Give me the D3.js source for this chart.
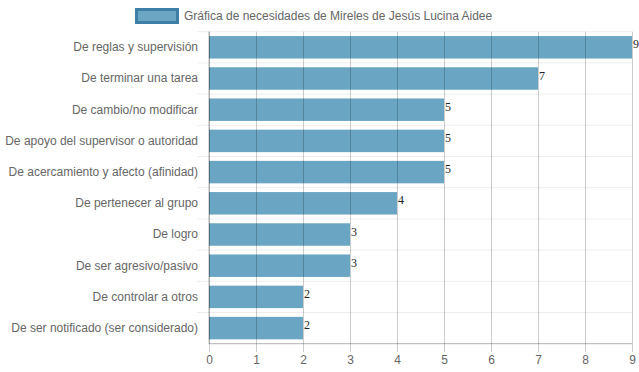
<!DOCTYPE html>
<html>
<head>
    <meta charset="utf-8">
    <title>Gráfica de necesidades</title>
    <style>
        body { margin: 0; background: #fff; }
        text { font-family: "Liberation Sans", Arial, sans-serif; }
        text.value { font-family: "Liberation Serif", "Times New Roman", serif; }
    </style>
</head>
<body>
    <script src="https://d3js.org/d3.v7.min.js"></script>
    <script>
        // Data
        const categories = [
            'De reglas y supervisión',
            'De terminar una tarea',
            'De cambio/no modificar',
            'De apoyo del supervisor o autoridad',
            'De acercamiento y afecto (afinidad)',
            'De pertenecer al grupo',
            'De logro',
            'De ser agresivo/pasivo',
            'De controlar a otros',
            'De ser notificado (ser considerado)'
        ];
        const values = [9, 7, 5, 5, 5, 4, 3, 3, 2, 2];
        const xTicks = [0, 1, 2, 3, 4, 5, 6, 7, 8, 9];
        const seriesName = 'Gráfica de necesidades de Mireles de Jesús Lucina Aidee';

        const width = 639;
        const height = 372;
        const plotLeft = 209, plotRight = 632, plotTop = 31.7, plotBottom = 343.7;
        const barColor = '#6aa5c4';

        const svg = d3.select('body')
            .append('svg')
            .attr('width', width)
            .attr('height', height);

        const x = d3.scaleLinear().domain([0, 9]).range([plotLeft, plotRight]);
        // bars take 72% of each category slot
        const y = d3.scaleBand().domain(categories).range([plotTop, plotBottom])
            .paddingInner(0.28).paddingOuter(0.14);
        const yGrid = d3.scaleBand().domain(categories).range([plotTop, plotBottom]);

        // horizontal grid lines (between categories), with small ticks to the left
        svg.append('g')
            .selectAll('line')
            .data(categories)
            .enter()
            .append('line')
            .attr('x1', plotLeft - 12)
            .attr('x2', plotRight)
            .attr('y1', d => yGrid(d))
            .attr('y2', d => yGrid(d))
            .attr('stroke', 'rgba(0,0,0,0.07)');

        // bars
        svg.append('g')
            .selectAll('rect')
            .data(values)
            .enter()
            .append('rect')
            .attr('x', x(0))
            .attr('y', (d, i) => y(categories[i]))
            .attr('width', d => x(d) - x(0))
            .attr('height', y.bandwidth())
            .attr('fill', barColor);

        // vertical grid lines over the bars + tick labels
        const xAxis = svg.append('g')
            .attr('transform', `translate(0,352)`)
            .call(d3.axisBottom(x)
                .tickValues(xTicks)
                .tickFormat(d3.format('d'))
                .tickSizeInner(-(352 - plotTop))
                .tickSizeOuter(0)
                .tickPadding(3));
        xAxis.select('.domain').remove();
        xAxis.selectAll('.tick line').attr('stroke', 'rgba(0,0,0,0.2)');
        xAxis.selectAll('.tick text')
            .attr('fill', '#666')
            .attr('font-size', 12);

        // axis lines
        svg.append('line')
            .attr('x1', plotLeft).attr('x2', plotRight)
            .attr('y1', plotBottom).attr('y2', plotBottom)
            .attr('stroke', 'rgba(0,0,0,0.3)');
        svg.append('line')
            .attr('x1', plotLeft).attr('x2', plotLeft)
            .attr('y1', plotTop).attr('y2', plotBottom)
            .attr('stroke', 'rgba(0,0,0,0.3)');

        // category labels
        const yAxis = svg.append('g')
            .attr('transform', `translate(${plotLeft},0)`)
            .call(d3.axisLeft(y).tickSize(0).tickPadding(11));
        yAxis.select('.domain').remove();
        yAxis.selectAll('.tick text')
            .attr('fill', '#666')
            .attr('font-size', 12);

        // value labels at the end of bars
        svg.append('g')
            .selectAll('text')
            .data(values)
            .enter()
            .append('text')
            .attr('class', 'value')
            .attr('x', d => x(d) + 1)
            .attr('y', (d, i) => y(categories[i]) + y.bandwidth() / 2 + 1)
            .attr('font-size', 12)
            .attr('fill', '#222')
            .text(d => d);

        // legend
        const legend = svg.append('g');
        legend.append('rect')
            .attr('x', 136.5)
            .attr('y', 9.5)
            .attr('width', 41)
            .attr('height', 13)
            .attr('fill', barColor)
            .attr('stroke', '#3d7fa6')
            .attr('stroke-width', 3);
        legend.append('text')
            .attr('x', 184)
            .attr('y', 16)
            .attr('dy', '0.35em')
            .attr('font-size', 12)
            .attr('fill', '#666')
            .text(seriesName);
    </script>
</body>
</html>
